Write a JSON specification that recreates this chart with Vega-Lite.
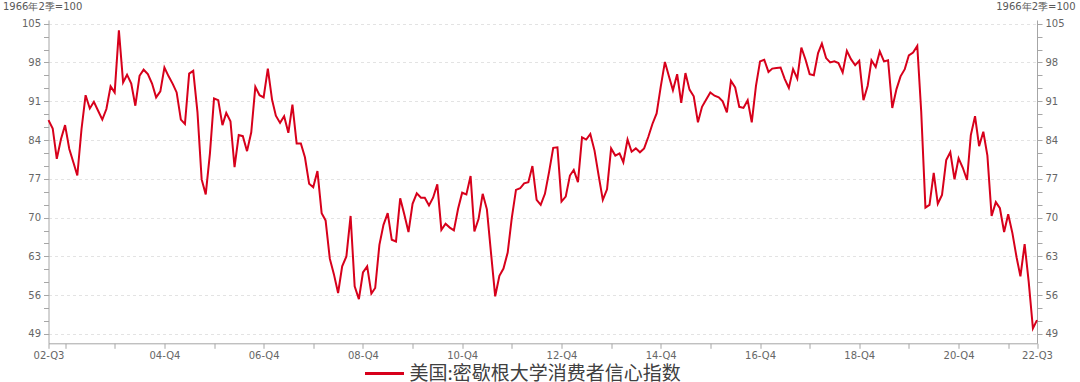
{
  "$schema": "https://vega.github.io/schema/vega-lite/v6.json",
  "autosize": "none",
  "width": 988.5,
  "height": 323.3,
  "padding": {"left": 48.5, "top": 20, "right": 43, "bottom": 38.7},
  "background": "white",
  "config": {
    "view": {"stroke": null},
    "axis": {
      "labelFont": "DejaVu Sans",
      "labelFontSize": 10,
      "labelColor": "#666666",
      "domainColor": "#a6a6a6",
      "tickColor": "#a6a6a6",
      "tickSize": 5,
      "titleFont": "DejaVu Sans",
      "titleFontSize": 10,
      "titleFontWeight": "normal",
      "titleColor": "#595959"
    }
  },
  "data": {
    "values": [
      {"date": "2002-08-01", "value": 87.6}, {"date": "2002-09-01", "value": 86.1}, {"date": "2002-10-01", "value": 80.6}, {"date": "2002-11-01", "value": 84.2}, {"date": "2002-12-01", "value": 86.7},
      {"date": "2003-01-01", "value": 82.4}, {"date": "2003-02-01", "value": 79.9}, {"date": "2003-03-01", "value": 77.6}, {"date": "2003-04-01", "value": 86.0}, {"date": "2003-05-01", "value": 92.1}, {"date": "2003-06-01", "value": 89.7}, {"date": "2003-07-01", "value": 90.9}, {"date": "2003-08-01", "value": 89.3}, {"date": "2003-09-01", "value": 87.7}, {"date": "2003-10-01", "value": 89.6}, {"date": "2003-11-01", "value": 93.7}, {"date": "2003-12-01", "value": 92.6},
      {"date": "2004-01-01", "value": 103.8}, {"date": "2004-02-01", "value": 94.4}, {"date": "2004-03-01", "value": 95.8}, {"date": "2004-04-01", "value": 94.2}, {"date": "2004-05-01", "value": 90.2}, {"date": "2004-06-01", "value": 95.6}, {"date": "2004-07-01", "value": 96.7}, {"date": "2004-08-01", "value": 95.9}, {"date": "2004-09-01", "value": 94.2}, {"date": "2004-10-01", "value": 91.7}, {"date": "2004-11-01", "value": 92.8}, {"date": "2004-12-01", "value": 97.1},
      {"date": "2005-01-01", "value": 95.5}, {"date": "2005-02-01", "value": 94.1}, {"date": "2005-03-01", "value": 92.6}, {"date": "2005-04-01", "value": 87.7}, {"date": "2005-05-01", "value": 86.9}, {"date": "2005-06-01", "value": 96.0}, {"date": "2005-07-01", "value": 96.5}, {"date": "2005-08-01", "value": 89.1}, {"date": "2005-09-01", "value": 76.9}, {"date": "2005-10-01", "value": 74.2}, {"date": "2005-11-01", "value": 81.6}, {"date": "2005-12-01", "value": 91.5},
      {"date": "2006-01-01", "value": 91.2}, {"date": "2006-02-01", "value": 86.7}, {"date": "2006-03-01", "value": 88.9}, {"date": "2006-04-01", "value": 87.4}, {"date": "2006-05-01", "value": 79.1}, {"date": "2006-06-01", "value": 84.9}, {"date": "2006-07-01", "value": 84.7}, {"date": "2006-08-01", "value": 82.0}, {"date": "2006-09-01", "value": 85.4}, {"date": "2006-10-01", "value": 93.6}, {"date": "2006-11-01", "value": 92.1}, {"date": "2006-12-01", "value": 91.7},
      {"date": "2007-01-01", "value": 96.9}, {"date": "2007-02-01", "value": 91.3}, {"date": "2007-03-01", "value": 88.4}, {"date": "2007-04-01", "value": 87.1}, {"date": "2007-05-01", "value": 88.3}, {"date": "2007-06-01", "value": 85.3}, {"date": "2007-07-01", "value": 90.4}, {"date": "2007-08-01", "value": 83.4}, {"date": "2007-09-01", "value": 83.4}, {"date": "2007-10-01", "value": 80.9}, {"date": "2007-11-01", "value": 76.1}, {"date": "2007-12-01", "value": 75.5},
      {"date": "2008-01-01", "value": 78.4}, {"date": "2008-02-01", "value": 70.8}, {"date": "2008-03-01", "value": 69.5}, {"date": "2008-04-01", "value": 62.6}, {"date": "2008-05-01", "value": 59.8}, {"date": "2008-06-01", "value": 56.4}, {"date": "2008-07-01", "value": 61.2}, {"date": "2008-08-01", "value": 63.0}, {"date": "2008-09-01", "value": 70.3}, {"date": "2008-10-01", "value": 57.6}, {"date": "2008-11-01", "value": 55.3}, {"date": "2008-12-01", "value": 60.1},
      {"date": "2009-01-01", "value": 61.2}, {"date": "2009-02-01", "value": 56.3}, {"date": "2009-03-01", "value": 57.3}, {"date": "2009-04-01", "value": 65.1}, {"date": "2009-05-01", "value": 68.7}, {"date": "2009-06-01", "value": 70.8}, {"date": "2009-07-01", "value": 66.0}, {"date": "2009-08-01", "value": 65.7}, {"date": "2009-09-01", "value": 73.5}, {"date": "2009-10-01", "value": 70.6}, {"date": "2009-11-01", "value": 67.4}, {"date": "2009-12-01", "value": 72.5},
      {"date": "2010-01-01", "value": 74.4}, {"date": "2010-02-01", "value": 73.6}, {"date": "2010-03-01", "value": 73.6}, {"date": "2010-04-01", "value": 72.2}, {"date": "2010-05-01", "value": 73.6}, {"date": "2010-06-01", "value": 76.0}, {"date": "2010-07-01", "value": 67.8}, {"date": "2010-08-01", "value": 68.9}, {"date": "2010-09-01", "value": 68.2}, {"date": "2010-10-01", "value": 67.7}, {"date": "2010-11-01", "value": 71.6}, {"date": "2010-12-01", "value": 74.5},
      {"date": "2011-01-01", "value": 74.2}, {"date": "2011-02-01", "value": 77.5}, {"date": "2011-03-01", "value": 67.5}, {"date": "2011-04-01", "value": 69.8}, {"date": "2011-05-01", "value": 74.3}, {"date": "2011-06-01", "value": 71.5}, {"date": "2011-07-01", "value": 63.7}, {"date": "2011-08-01", "value": 55.8}, {"date": "2011-09-01", "value": 59.5}, {"date": "2011-10-01", "value": 60.8}, {"date": "2011-11-01", "value": 63.7}, {"date": "2011-12-01", "value": 69.9},
      {"date": "2012-01-01", "value": 75.0}, {"date": "2012-02-01", "value": 75.3}, {"date": "2012-03-01", "value": 76.2}, {"date": "2012-04-01", "value": 76.4}, {"date": "2012-05-01", "value": 79.3}, {"date": "2012-06-01", "value": 73.2}, {"date": "2012-07-01", "value": 72.3}, {"date": "2012-08-01", "value": 74.3}, {"date": "2012-09-01", "value": 78.3}, {"date": "2012-10-01", "value": 82.6}, {"date": "2012-11-01", "value": 82.7}, {"date": "2012-12-01", "value": 72.9},
      {"date": "2013-01-01", "value": 73.8}, {"date": "2013-02-01", "value": 77.6}, {"date": "2013-03-01", "value": 78.6}, {"date": "2013-04-01", "value": 76.4}, {"date": "2013-05-01", "value": 84.5}, {"date": "2013-06-01", "value": 84.1}, {"date": "2013-07-01", "value": 85.1}, {"date": "2013-08-01", "value": 82.1}, {"date": "2013-09-01", "value": 77.5}, {"date": "2013-10-01", "value": 73.2}, {"date": "2013-11-01", "value": 75.1}, {"date": "2013-12-01", "value": 82.5},
      {"date": "2014-01-01", "value": 81.2}, {"date": "2014-02-01", "value": 81.6}, {"date": "2014-03-01", "value": 80.0}, {"date": "2014-04-01", "value": 84.1}, {"date": "2014-05-01", "value": 81.9}, {"date": "2014-06-01", "value": 82.5}, {"date": "2014-07-01", "value": 81.8}, {"date": "2014-08-01", "value": 82.5}, {"date": "2014-09-01", "value": 84.6}, {"date": "2014-10-01", "value": 86.9}, {"date": "2014-11-01", "value": 88.8}, {"date": "2014-12-01", "value": 93.6},
      {"date": "2015-01-01", "value": 98.1}, {"date": "2015-02-01", "value": 95.4}, {"date": "2015-03-01", "value": 93.0}, {"date": "2015-04-01", "value": 95.9}, {"date": "2015-05-01", "value": 90.7}, {"date": "2015-06-01", "value": 96.1}, {"date": "2015-07-01", "value": 93.1}, {"date": "2015-08-01", "value": 91.9}, {"date": "2015-09-01", "value": 87.2}, {"date": "2015-10-01", "value": 90.0}, {"date": "2015-11-01", "value": 91.3}, {"date": "2015-12-01", "value": 92.6},
      {"date": "2016-01-01", "value": 92.0}, {"date": "2016-02-01", "value": 91.7}, {"date": "2016-03-01", "value": 91.0}, {"date": "2016-04-01", "value": 89.0}, {"date": "2016-05-01", "value": 94.7}, {"date": "2016-06-01", "value": 93.5}, {"date": "2016-07-01", "value": 90.0}, {"date": "2016-08-01", "value": 89.8}, {"date": "2016-09-01", "value": 91.2}, {"date": "2016-10-01", "value": 87.2}, {"date": "2016-11-01", "value": 93.8}, {"date": "2016-12-01", "value": 98.2},
      {"date": "2017-01-01", "value": 98.5}, {"date": "2017-02-01", "value": 96.3}, {"date": "2017-03-01", "value": 96.9}, {"date": "2017-04-01", "value": 97.0}, {"date": "2017-05-01", "value": 97.1}, {"date": "2017-06-01", "value": 95.0}, {"date": "2017-07-01", "value": 93.4}, {"date": "2017-08-01", "value": 96.8}, {"date": "2017-09-01", "value": 95.1}, {"date": "2017-10-01", "value": 100.7}, {"date": "2017-11-01", "value": 98.5}, {"date": "2017-12-01", "value": 95.9},
      {"date": "2018-01-01", "value": 95.7}, {"date": "2018-02-01", "value": 99.7}, {"date": "2018-03-01", "value": 101.4}, {"date": "2018-04-01", "value": 98.8}, {"date": "2018-05-01", "value": 98.0}, {"date": "2018-06-01", "value": 98.2}, {"date": "2018-07-01", "value": 97.9}, {"date": "2018-08-01", "value": 96.2}, {"date": "2018-09-01", "value": 100.1}, {"date": "2018-10-01", "value": 98.6}, {"date": "2018-11-01", "value": 97.5}, {"date": "2018-12-01", "value": 98.3},
      {"date": "2019-01-01", "value": 91.2}, {"date": "2019-02-01", "value": 93.8}, {"date": "2019-03-01", "value": 98.4}, {"date": "2019-04-01", "value": 97.2}, {"date": "2019-05-01", "value": 100.0}, {"date": "2019-06-01", "value": 98.2}, {"date": "2019-07-01", "value": 98.4}, {"date": "2019-08-01", "value": 89.8}, {"date": "2019-09-01", "value": 93.2}, {"date": "2019-10-01", "value": 95.5}, {"date": "2019-11-01", "value": 96.8}, {"date": "2019-12-01", "value": 99.3},
      {"date": "2020-01-01", "value": 99.8}, {"date": "2020-02-01", "value": 101.0}, {"date": "2020-03-01", "value": 89.1}, {"date": "2020-04-01", "value": 71.8}, {"date": "2020-05-01", "value": 72.3}, {"date": "2020-06-01", "value": 78.1}, {"date": "2020-07-01", "value": 72.5}, {"date": "2020-08-01", "value": 74.1}, {"date": "2020-09-01", "value": 80.4}, {"date": "2020-10-01", "value": 81.8}, {"date": "2020-11-01", "value": 76.9}, {"date": "2020-12-01", "value": 80.7},
      {"date": "2021-01-01", "value": 79.0}, {"date": "2021-02-01", "value": 76.8}, {"date": "2021-03-01", "value": 84.9}, {"date": "2021-04-01", "value": 88.3}, {"date": "2021-05-01", "value": 82.9}, {"date": "2021-06-01", "value": 85.5}, {"date": "2021-07-01", "value": 81.2}, {"date": "2021-08-01", "value": 70.3}, {"date": "2021-09-01", "value": 72.8}, {"date": "2021-10-01", "value": 71.7}, {"date": "2021-11-01", "value": 67.4}, {"date": "2021-12-01", "value": 70.6},
      {"date": "2022-01-01", "value": 67.2}, {"date": "2022-02-01", "value": 62.8}, {"date": "2022-03-01", "value": 59.4}, {"date": "2022-04-01", "value": 65.2}, {"date": "2022-05-01", "value": 58.4}, {"date": "2022-06-01", "value": 50.0}, {"date": "2022-07-01", "value": 51.5}
    ]
  },
  "encoding": {
    "x": {
      "field": "date",
      "type": "temporal",
      "scale": {
        "type": "utc",
        "domain": [
          {"year": 2002, "month": 8, "date": 1, "utc": true},
          {"year": 2022, "month": 7, "date": 1, "utc": true}
        ]
      },
      "axis": {
        "title": null,
        "grid": false,
        "labelFlush": false,
        "labelOverlap": false,
        "labelPadding": 2,
        "values": [
          {"year": 2002, "month": 8, "date": 1, "utc": true},
          {"year": 2002, "month": 12, "date": 1, "utc": true},
          {"year": 2003, "month": 12, "date": 1, "utc": true},
          {"year": 2004, "month": 12, "date": 1, "utc": true},
          {"year": 2005, "month": 12, "date": 1, "utc": true},
          {"year": 2006, "month": 12, "date": 1, "utc": true},
          {"year": 2007, "month": 12, "date": 1, "utc": true},
          {"year": 2008, "month": 12, "date": 1, "utc": true},
          {"year": 2009, "month": 12, "date": 1, "utc": true},
          {"year": 2010, "month": 12, "date": 1, "utc": true},
          {"year": 2011, "month": 12, "date": 1, "utc": true},
          {"year": 2012, "month": 12, "date": 1, "utc": true},
          {"year": 2013, "month": 12, "date": 1, "utc": true},
          {"year": 2014, "month": 12, "date": 1, "utc": true},
          {"year": 2015, "month": 12, "date": 1, "utc": true},
          {"year": 2016, "month": 12, "date": 1, "utc": true},
          {"year": 2017, "month": 12, "date": 1, "utc": true},
          {"year": 2018, "month": 12, "date": 1, "utc": true},
          {"year": 2019, "month": 12, "date": 1, "utc": true},
          {"year": 2020, "month": 12, "date": 1, "utc": true},
          {"year": 2021, "month": 12, "date": 1, "utc": true},
          {"year": 2022, "month": 7, "date": 1, "utc": true}
        ],
        "labelExpr": "utcmonth(datum.value) == 7 ? '02-Q3' : (utcmonth(datum.value) == 6 ? '22-Q3' : ((utcyear(datum.value) % 2 == 0 && utcyear(datum.value) > 2002) ? utcFormat(datum.value, '%y') + '-Q4' : ''))"
      }
    },
    "y": {
      "field": "value",
      "type": "quantitative",
      "scale": {"domain": [47.32, 105.67], "nice": false, "zero": false}
    }
  },
  "layer": [
    {
      "mark": {"type": "line", "strokeWidth": 2, "interpolate": "linear"},
      "encoding": {
        "color": {
          "datum": "美国:密歇根大学消费者信心指数",
          "type": "nominal",
          "scale": {"range": ["#d7001b"]},
          "legend": {
            "title": null,
            "orient": "none",
            "legendX": 315,
            "legendY": 332.5,
            "padding": 0,
            "symbolType": "stroke",
            "symbolSize": 1521,
            "symbolStrokeWidth": 3,
            "labelFont": "Noto Sans CJK SC",
            "labelFontSize": 19,
            "labelColor": "#404040",
            "labelOffset": 4,
            "labelLimit": 0
          }
        },
        "y": {
          "field": "value",
          "type": "quantitative",
          "axis": {
            "orient": "left",
            "values": [49, 51.3333333, 53.6666667, 56, 58.3333333, 60.6666667, 63, 65.3333333, 67.6666667, 70, 72.3333333, 74.6666667, 77, 79.3333333, 81.6666667, 84, 86.3333333, 88.6666667, 91, 93.3333333, 95.6666667, 98, 100.3333333, 102.6666667, 105],
            "labelExpr": "abs((datum.value - 49) / 7 - round((datum.value - 49) / 7)) < 0.01 ? toString(round(datum.value)) : ''",
            "labelPadding": 3,
            "labelOverlap": false,
            "grid": true,
            "gridColor": "#e3e3e3",
            "gridDash": [3, 3],
            "gridOpacity": {"condition": {"test": "abs((datum.value - 49) / 7 - round((datum.value - 49) / 7)) < 0.01", "value": 1}, "value": 0},
            "title": "1966年2季=100",
            "titleAngle": 0,
            "titleAlign": "left",
            "titleBaseline": "middle",
            "titleX": -46,
            "titleY": -14
          }
        }
      }
    },
    {
      "mark": {"type": "line", "strokeWidth": 2, "strokeOpacity": 0},
      "encoding": {
        "y": {
          "field": "value",
          "type": "quantitative",
          "axis": {
            "orient": "right",
            "values": [49, 51.3333333, 53.6666667, 56, 58.3333333, 60.6666667, 63, 65.3333333, 67.6666667, 70, 72.3333333, 74.6666667, 77, 79.3333333, 81.6666667, 84, 86.3333333, 88.6666667, 91, 93.3333333, 95.6666667, 98, 100.3333333, 102.6666667, 105],
            "labelExpr": "abs((datum.value - 49) / 7 - round((datum.value - 49) / 7)) < 0.01 ? toString(round(datum.value)) : ''",
            "labelPadding": 3,
            "labelOverlap": false,
            "grid": false,
            "title": "1966年2季=100",
            "titleAngle": 0,
            "titleAlign": "right",
            "titleBaseline": "middle",
            "titleX": 38,
            "titleY": -14
          }
        }
      }
    }
  ],
  "resolve": {"scale": {"y": "shared"}, "axis": {"y": "independent"}}
}
